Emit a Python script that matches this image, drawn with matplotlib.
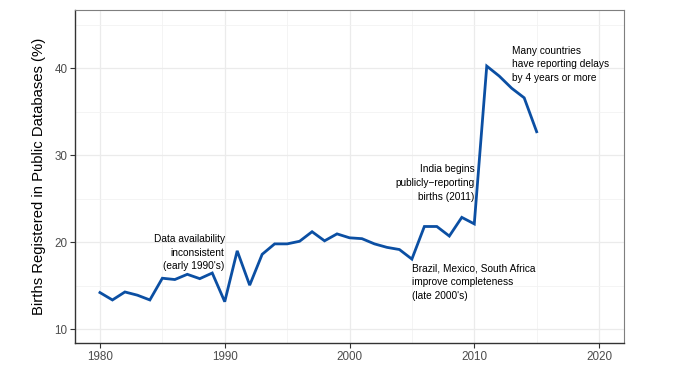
import matplotlib
matplotlib.use("Agg")
import matplotlib.pyplot as plt
from matplotlib.ticker import MultipleLocator

plt.rcParams['font.family'] = ['Liberation Sans', 'DejaVu Sans']

years = list(range(1980, 2016))
births_pct = [14.2, 13.35, 14.27, 13.9, 13.35, 15.85, 15.7, 16.3, 15.8, 16.45,
              13.15, 19.0, 15.05, 18.6, 19.8, 19.8, 20.1, 21.2, 20.15, 20.95,
              20.5, 20.4, 19.8, 19.4, 19.15, 18.05, 21.8, 21.8, 20.7, 22.85,
              22.1, 40.25, 39.1, 37.7, 36.6, 32.7]

notes = [
    ("Data availability\ninconsistent\n(early 1990's)", 1990, 18.8, 'right'),
    ("India begins\npublicly\u2212reporting\nbirths (2011)", 2010, 26.8, 'right'),
    ("Brazil, Mexico, South Africa\nimprove completeness\n(late 2000's)", 2005, 15.4, 'left'),
    ("Many countries\nhave reporting delays\nby 4 years or more", 2013, 40.45, 'left'),
]

fig = plt.figure(figsize=(6.86, 3.68), dpi=100)
ax = fig.add_axes([75/686, 1 - 343/368, (624-75)/686, (343-10)/368])

ax.plot(years, births_pct, color='#0B4FA3', lw=2.0, solid_joinstyle='miter', zorder=3)

for txt, x, y, ha in notes:
    ax.text(x, y, txt, ha=ha, va='center', fontsize=7.3, color='black',
            linespacing=1.45, multialignment=ha)

ax.set_xlim(1978, 2022)
ax.set_ylim(8.4, 46.7)
ax.xaxis.set_major_locator(MultipleLocator(10))
ax.xaxis.set_minor_locator(MultipleLocator(5))
ax.yaxis.set_major_locator(MultipleLocator(10))
ax.yaxis.set_minor_locator(MultipleLocator(5))
ax.grid(which='major', color='#EBEBEB', lw=0.9)
ax.grid(which='minor', color='#F2F2F2', lw=0.6)
ax.set_axisbelow(True)

for s in ['top', 'right']:
    ax.spines[s].set_color('#7F7F7F')
    ax.spines[s].set_linewidth(0.8)
for s in ['left', 'bottom']:
    ax.spines[s].set_color('#333333')
    ax.spines[s].set_linewidth(1.0)

ax.tick_params(which='major', length=3.5, width=0.8, color='#333333',
               labelcolor='#4D4D4D', labelsize=8.4, pad=2)
ax.tick_params(which='minor', length=0)

ax.set_ylabel('Births Registered in Public Databases (%)', fontsize=10.7, labelpad=6)

fig.savefig('out.png', dpi=100)
